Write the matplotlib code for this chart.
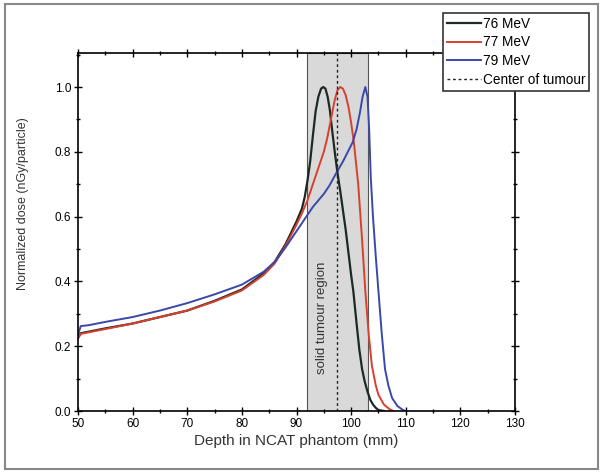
import matplotlib
matplotlib.use("Agg")
import matplotlib.pyplot as plt
from matplotlib.patches import Rectangle
from matplotlib.ticker import MultipleLocator, FormatStrFormatter

plt.rcParams['font.family'] = ['Liberation Sans', 'DejaVu Sans']

# Data
depth_76 = [50, 50.5, 52, 55, 60, 65, 70, 75, 80, 84, 86, 88, 89, 90, 91, 91.5, 92, 92.5, 93, 93.5, 94, 94.5, 94.9,
            95.3, 95.7, 96.1, 96.5, 97, 97.5, 98, 99, 100, 100.4, 101, 101.5, 102, 102.5, 103, 103.5, 104, 104.5, 105, 106]
dose_76 = [0.225, 0.24, 0.245, 0.255, 0.27, 0.29, 0.31, 0.34, 0.375, 0.425, 0.46, 0.515, 0.55, 0.585, 0.625, 0.66, 0.71, 0.77, 0.85, 0.925, 0.97, 0.995, 1.0,
           0.995, 0.97, 0.93, 0.87, 0.8, 0.735, 0.68, 0.56, 0.42, 0.37, 0.27, 0.19, 0.13, 0.09, 0.06, 0.035, 0.02, 0.01, 0.003, 0.0]

depth_77 = [50, 50.5, 52, 55, 60, 65, 70, 75, 80, 84, 86, 88, 90, 91, 92, 93, 94, 95, 95.6, 96.3, 97, 97.5, 98,
            98.5, 99, 99.5, 100, 100.5, 101.3, 102, 102.6, 103.2, 103.8, 104.5, 105, 106, 107, 107.7]
dose_77 = [0.225, 0.238, 0.243, 0.253, 0.27, 0.29, 0.31, 0.338, 0.372, 0.42, 0.455, 0.51, 0.575, 0.61, 0.65, 0.7, 0.75, 0.8, 0.84, 0.9, 0.96, 0.99, 1.0,
           0.995, 0.975, 0.94, 0.89, 0.83, 0.7, 0.53, 0.37, 0.24, 0.14, 0.08, 0.05, 0.02, 0.006, 0.0]

depth_79 = [50, 50.5, 52, 55, 60, 65, 70, 75, 80, 84, 86, 88, 90, 91, 92, 93, 94, 95, 96, 97.3, 98.5, 100.3,
            101, 101.6, 102.1, 102.6, 103, 103.3, 103.6, 104, 104.5, 105, 105.6, 106.2, 106.8, 107.5, 108.5, 109.5, 110]
dose_79 = [0.235, 0.262, 0.265, 0.275, 0.29, 0.31, 0.333, 0.36, 0.39, 0.43, 0.46, 0.505, 0.555, 0.58, 0.605, 0.63, 0.65, 0.67, 0.695, 0.735, 0.77, 0.83,
           0.87, 0.92, 0.97, 1.0, 0.97, 0.87, 0.72, 0.6, 0.48, 0.37, 0.24, 0.13, 0.08, 0.04, 0.015, 0.003, 0.0]

tumour_region = [92, 103]
tumour_center = 97.5
labels = ['76 MeV', '77 MeV', '79 MeV', 'Center of tumour']

fig = plt.figure(figsize=(6.02, 4.72), dpi=100)
ax = fig.add_axes([78/602, 1-411/472, (515-78)/602, (411-53)/472])

ax.axvspan(tumour_region[0], tumour_region[1], facecolor='#d9d9d9', edgecolor='#555555', lw=0.8, zorder=0)
ax.text(94.7, 0.287, 'solid tumour region', rotation=90,
        ha='center', va='center', fontsize=9.5, color='#333333')

ax.plot(depth_76, dose_76, color='#1c2a22', lw=1.6, label=labels[0])
ax.plot(depth_77, dose_77, color='#d8402e', lw=1.4, label=labels[1])
ax.plot(depth_79, dose_79, color='#3a48a8', lw=1.4, label=labels[2])
ax.axvline(tumour_center, color='#222222', ls=(0, (2, 2)), lw=1.0, label=labels[3])

ax.set_xlim(50, 130)
ax.set_ylim(0, 1.105)
ax.xaxis.set_major_locator(MultipleLocator(10))
ax.xaxis.set_minor_locator(MultipleLocator(5))
ax.yaxis.set_major_locator(MultipleLocator(0.2))
ax.yaxis.set_minor_locator(MultipleLocator(0.1))
ax.yaxis.set_major_formatter(FormatStrFormatter('%.1f'))
ax.tick_params(which='both', direction='inout', top=True, right=True, width=1.0)
ax.tick_params(which='major', length=6, labelsize=8.5, pad=2)
ax.tick_params(which='minor', length=3)
for s in ax.spines.values():
    s.set_linewidth(1.2)

ax.set_xlabel('Depth in NCAT phantom (mm)', fontsize=11, color='#333333', labelpad=3)
ax.set_ylabel('Normalized dose (nGy/particle)', fontsize=9, color='#333333')
ax.yaxis.set_label_coords(-0.112, 0.58)

leg = ax.legend(loc='upper left', bbox_to_anchor=(443/602, 1-13/472), bbox_transform=fig.transFigure,
                fontsize=9.8, frameon=True, fancybox=False, framealpha=1, edgecolor='#333333',
                borderpad=0.28, labelspacing=0.34, handlelength=2.5, handletextpad=0.15, borderaxespad=0)
leg.get_frame().set_linewidth(1.2)

# figure frame
fig.patches.append(Rectangle((5/602, 3/472), 593/602, 465/472, transform=fig.transFigure,
                             fill=False, edgecolor='#888888', lw=1.5))

fig.savefig('out.png', dpi=100)
